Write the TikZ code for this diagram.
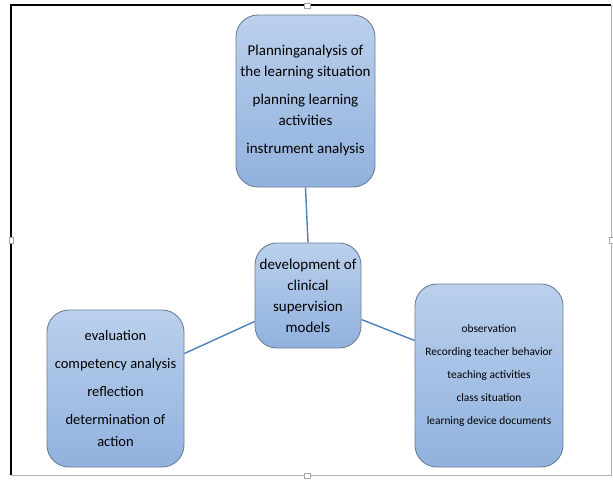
\documentclass[tikz,border=0pt]{standalone}
\usepackage{fontspec}
\setmainfont{Carlito}
\usepackage{tikz}
\definecolor{boxtop}{RGB}{186,208,236}
\definecolor{boxbot}{RGB}{145,177,222}
\definecolor{boxline}{RGB}{110,128,152}
\definecolor{linkblue}{RGB}{78,128,188}

\begin{document}
\begin{tikzpicture}[x=1pt,y=-1pt]
        \tikzstyle{every node}+=[inner sep=0pt]
        \tikzstyle{bubble}=[draw=boxline, line width=0.9pt, rounded corners=22pt, top color=boxtop, bottom color=boxbot, align=center]
        \tikzstyle{link}=[draw=linkblue, line width=1.4pt]
        \useasboundingbox (0,0) rectangle (613,484);
        \fill [white] (0,0) rectangle (613,484);
        \draw [black!30] (611,5) -- (611,475) -- (11,475);
        \draw [black, line width=1.6pt] (11,475) -- (11,5) -- (611,5);
        \draw [black!35, fill=white] (304,3) rectangle (310,8);
        \draw [black!35, fill=white] (304,473) rectangle (310,478);
        \draw [black!35, fill=white] (609,237) rectangle (613,243);
        \draw [black!35, fill=white] (9,237) rectangle (13,243);
        \node [bubble, minimum width=139pt, minimum height=172pt, font=\fontsize{15}{20.5}\selectfont] (plan) at (305.5,101)
          {Planninganalysis of\\the learning situation\\[8pt]
           planning learning\\activities\\[8pt]instrument analysis};
        \node [bubble, minimum width=106pt, minimum height=105pt, font=\fontsize{15}{21}\selectfont] (dev) at (308,295.5)
          {development of\\clinical\\supervision\\models};
        \node [bubble, minimum width=137pt, minimum height=157pt, font=\fontsize{14.5}{21.5}\selectfont] (eval) at (115.5,388.5)
          {evaluation\\[6.5pt]competency analysis\\[6.5pt]reflection\\[6.5pt]determination of\\action};
        \node [bubble, minimum width=148pt, minimum height=183pt, font=\fontsize{11.4}{23.2}\selectfont] (obs) at (489,375.5)
          {observation\\Recording teacher behavior\\teaching activities\\class situation\\learning device documents};
        \draw [link] (plan.south) -- (dev.north);
        \draw [link] ([yshift=-26pt]dev.west) -- ([yshift=35pt]eval.east);
        \draw [link] ([yshift=-24pt]dev.east) -- ([yshift=35pt]obs.west);
\end{tikzpicture}
\end{document}
